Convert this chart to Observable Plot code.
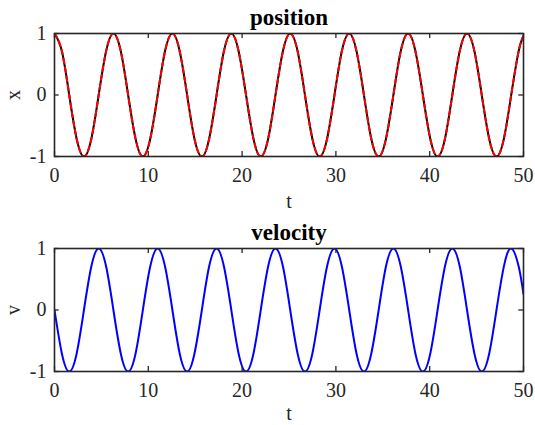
<!DOCTYPE html>
<html>
<head>
<meta charset="utf-8">
<script src="https://cdn.jsdelivr.net/npm/d3@7"></script>
<script src="https://cdn.jsdelivr.net/npm/@observablehq/plot@0.6"></script>
<style>
  html, body { margin: 0; padding: 0; background: #fff; }
  #chart > * { display: block; }
</style>
</head>
<body>
<div id="chart"></div>
<script>
// sample times (at extrema, zero crossings and midpoints)
const t = [0, 0.79, 1.57, 2.36, 3.14, 3.93, 4.71, 5.50, 6.28, 7.07, 7.85, 8.64, 9.42, 10.21, 11.00, 11.78,
  12.57, 13.35, 14.14, 14.92, 15.71, 16.49, 17.28, 18.06, 18.85, 19.63, 20.42, 21.21, 21.99, 22.78, 23.56, 24.35,
  25.13, 25.92, 26.70, 27.49, 28.27, 29.06, 29.85, 30.63, 31.42, 32.20, 32.99, 33.77, 34.56, 35.34, 36.13, 36.91,
  37.70, 38.48, 39.27, 40.06, 40.84, 41.63, 42.41, 43.20, 43.98, 44.77, 45.55, 46.34, 47.12, 47.91, 48.69, 49.48, 50];
const position = [1, 0.71, 0, -0.71, -1, -0.71, 0, 0.71, 1, 0.71, 0, -0.71, -1, -0.71, 0, 0.71,
  1, 0.71, 0, -0.71, -1, -0.71, 0, 0.71, 1, 0.71, 0, -0.71, -1, -0.71, 0, 0.71,
  1, 0.71, 0, -0.71, -1, -0.71, 0, 0.71, 1, 0.71, 0, -0.71, -1, -0.71, 0, 0.71,
  1, 0.71, 0, -0.71, -1, -0.71, 0, 0.71, 1, 0.71, 0, -0.71, -1, -0.71, 0, 0.71, 0.96];
const velocity = [0, -0.71, -1, -0.71, 0, 0.71, 1, 0.71, 0, -0.71, -1, -0.71, 0, 0.71, 1, 0.71,
  0, -0.71, -1, -0.71, 0, 0.71, 1, 0.71, 0, -0.71, -1, -0.71, 0, 0.71, 1, 0.71,
  0, -0.71, -1, -0.71, 0, 0.71, 1, 0.71, 0, -0.71, -1, -0.71, 0, 0.71, 1, 0.71,
  0, -0.71, -1, -0.71, 0, 0.71, 1, 0.71, 0, -0.71, -1, -0.71, 0, 0.71, 1, 0.71, 0.26];
const xTicks = [0, 10, 20, 30, 40, 50];
const yTicks = [-1, 0, 1];
const titles = ["position", "velocity"];
const yLabels = ["x", "v"];
const xLabel = "t";

const ink = "#262626";
const font = "Liberation Serif, Times New Roman, serif";
const fs = 20;

function panel({height, marginTop, marginBottom, title, ylab, labelDy, lines}) {
  return Plot.plot({
    width: 535,
    height,
    marginLeft: 54,
    marginRight: 12,
    marginTop,
    marginBottom,
    style: {fontFamily: font, fontSize: fs + "px", color: ink, background: "#fff"},
    x: {domain: [0, 50], ticks: xTicks},
    y: {domain: [-1, 1], ticks: yTicks},
    marks: [
      ...lines,
      Plot.ruleX(xTicks, {x: d => d, y1: -1, y2: -0.92, stroke: ink, strokeWidth: 1.3}),
      Plot.ruleX(xTicks, {x: d => d, y1: 1, y2: 0.92, stroke: ink, strokeWidth: 1.3}),
      Plot.ruleY(yTicks, {y: d => d, x1: 0, x2: 0.5, stroke: ink, strokeWidth: 1.3}),
      Plot.ruleY(yTicks, {y: d => d, x1: 50, x2: 49.5, stroke: ink, strokeWidth: 1.3}),
      Plot.frame({stroke: ink, strokeWidth: 1.6}),
      Plot.axisX({ticks: xTicks, tickSize: 0, tickPadding: 11, label: null, fontSize: fs, fill: ink}),
      Plot.axisY({ticks: yTicks, tickSize: 0, tickPadding: 8, label: null, fontSize: fs, fill: ink, tickFormat: d => String(d)}),
      Plot.text([xLabel], {text: d => d, frameAnchor: "bottom", lineAnchor: "middle", textAnchor: "middle", dy: labelDy, fontSize: fs, fill: ink}),
      Plot.text([ylab], {text: d => d, frameAnchor: "left", lineAnchor: "middle", textAnchor: "middle", dx: -41, rotate: -90, fontSize: fs, fill: ink}),
      Plot.text([title], {text: d => d, frameAnchor: "top", lineAnchor: "middle", textAnchor: "middle", dy: -15.5, fontSize: 23, fontWeight: "bold", fill: "#000"})
    ]
  });
}

const data = t.map((tt, i) => ({t: tt, x: position[i], v: velocity[i]}));

const topPanel = panel({
  height: 212, marginTop: 33, marginBottom: 56, labelDy: 45.5,
  title: titles[0], ylab: yLabels[0],
  lines: [
    Plot.line(data, {x: "t", y: "x", curve: "natural", stroke: "#000", strokeWidth: 2, clip: true}),
    Plot.line(data, {x: "t", y: "x", curve: "natural", stroke: "#ff0000", strokeWidth: 2, strokeDasharray: "5,4", clip: true})
  ]
});
const bottomPanel = panel({
  height: 213, marginTop: 36, marginBottom: 54, labelDy: 42.5,
  title: titles[1], ylab: yLabels[1],
  lines: [
    Plot.line(data, {x: "t", y: "v", curve: "natural", stroke: "#0000ff", strokeWidth: 2, clip: true})
  ]
});

const el = document.getElementById("chart");
el.appendChild(topPanel);
el.appendChild(bottomPanel);
</script>
</body>
</html>
